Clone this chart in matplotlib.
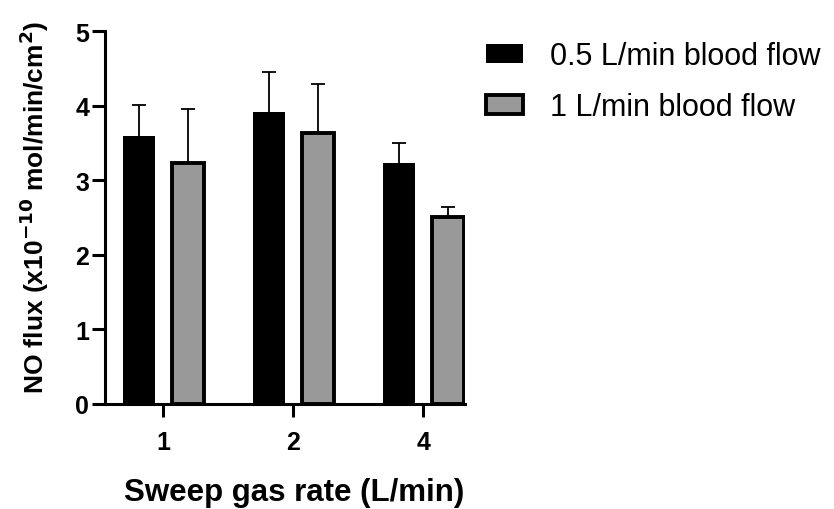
import numpy as np
import matplotlib.pyplot as plt

plt.rcParams['font.family'] = ['Liberation Sans', 'DejaVu Sans']

# data
categories = ["1", "2", "4"]
flow_low = [3.59, 3.91, 3.23]      # 0.5 L/min blood flow
flow_low_err = [0.42, 0.54, 0.27]
flow_high = [3.23, 3.63, 2.51]     # 1 L/min blood flow
flow_high_err = [0.72, 0.66, 0.13]

x = np.arange(len(categories))
width = 0.246
offset = 0.188

fig = plt.figure(figsize=(8.34, 5.10), dpi=100)
ax = fig.add_axes([0.126, 0.206, 0.432, 0.731])

ax.bar(x - offset, flow_low, width, color="black", edgecolor="black", linewidth=0,
       label="0.5 L/min blood flow", zorder=3)
ax.bar(x + offset, flow_high, width, color="#999999", edgecolor="black", linewidth=2.8,
       label="1 L/min blood flow", zorder=3)
for xs, vals, errs in [(x - offset, flow_low, flow_low_err), (x + offset, flow_high, flow_high_err)]:
    eb = ax.errorbar(xs, vals, yerr=[np.zeros(3), errs], fmt="none", ecolor="black",
                     elinewidth=1.3, capsize=5, capthick=1.3, zorder=2)
    eb[1][0].set_visible(False)   # no lower cap

ax.set_xlim(-0.446, 2.323)
ax.set_ylim(0, 5)
ax.set_xticks(x)
ax.set_xticklabels(categories)
ax.set_yticks([0, 1, 2, 3, 4, 5])

for side in ["top", "right"]:
    ax.spines[side].set_visible(False)
for side in ["left", "bottom"]:
    ax.spines[side].set_linewidth(2.2)
ax.tick_params(width=2.2, length=9.5, labelsize=18)
ax.tick_params(axis="y", pad=2)
ax.tick_params(axis="x", pad=9)
for lbl in ax.get_xticklabels() + ax.get_yticklabels():
    lbl.set_fontweight("bold")

ax.set_xlabel("Sweep gas rate (L/min)", fontsize=22.5, fontweight="bold")
ax.xaxis.set_label_coords(0.525, -0.195)
ax.set_ylabel(r"NO flux (x10$^{\mathbf{-10}}$ mol/min/cm$^{\mathbf{2}}$)", fontsize=19,
              fontweight="bold")
ax.yaxis.set_label_coords(-0.15, 0.53)

fig.legend(loc="upper left", bbox_to_anchor=(486 / 834, 1 - 42 / 510), frameon=False,
           fontsize=22, borderpad=0, borderaxespad=0,
           handlelength=1.21, handleheight=0.59, handletextpad=0.88, labelspacing=0.7)

fig.savefig("out.png", dpi=100)
